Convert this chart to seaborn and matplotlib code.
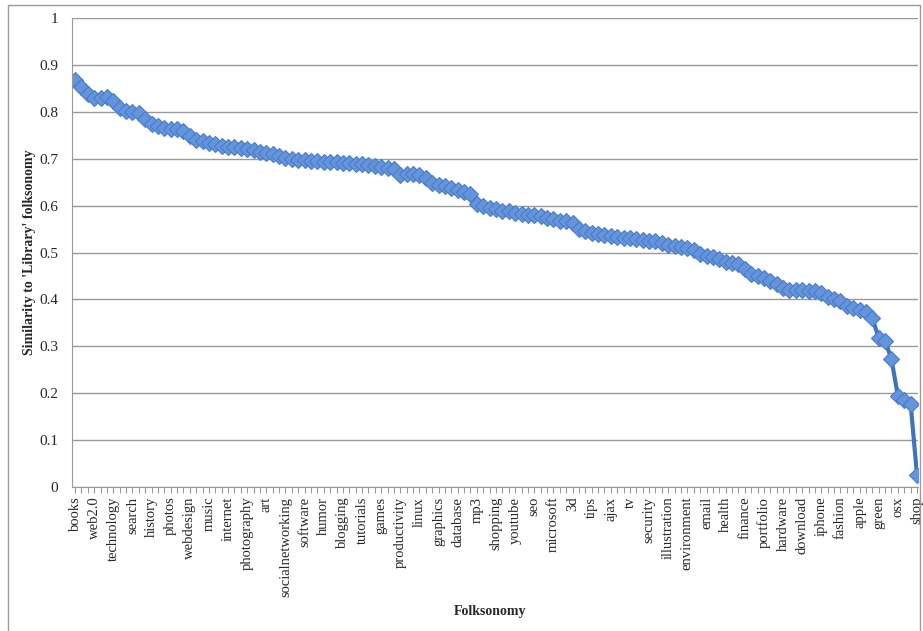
import matplotlib
matplotlib.use("Agg")
import matplotlib.pyplot as plt
import seaborn as sns
import numpy as np
import pandas as pd

# similarity of each folksonomy to the 'Library' folksonomy (133 categories, sorted)
similarity = [
    0.868, 0.853, 0.838, 0.830, 0.829, 0.832, 0.822, 0.808, 0.801, 0.800,
    0.797, 0.785, 0.775, 0.770, 0.766, 0.763, 0.764, 0.760, 0.748, 0.740,
    0.737, 0.733, 0.731, 0.728, 0.726, 0.724, 0.723, 0.721, 0.718, 0.715,
    0.712, 0.709, 0.706, 0.702, 0.700, 0.698, 0.697, 0.696, 0.695, 0.694,
    0.693, 0.692, 0.691, 0.690, 0.689, 0.688, 0.687, 0.685, 0.683, 0.681,
    0.678, 0.666, 0.667, 0.667, 0.665, 0.658, 0.648, 0.644, 0.641, 0.637,
    0.634, 0.630, 0.625, 0.603, 0.599, 0.594, 0.592, 0.589, 0.588, 0.585,
    0.582, 0.581, 0.579, 0.577, 0.574, 0.571, 0.568, 0.567, 0.563, 0.550,
    0.545, 0.542, 0.540, 0.537, 0.535, 0.533, 0.531, 0.530, 0.528, 0.526,
    0.525, 0.524, 0.521, 0.515, 0.514, 0.512, 0.510, 0.505, 0.497, 0.492,
    0.490, 0.487, 0.480, 0.477, 0.475, 0.465, 0.455, 0.450, 0.446, 0.440,
    0.433, 0.425, 0.420, 0.420, 0.419, 0.418, 0.417, 0.414, 0.406, 0.401,
    0.396, 0.386, 0.381, 0.378, 0.373, 0.360, 0.318, 0.312, 0.272, 0.195,
    0.185, 0.178, 0.025,
]

# only every third category is labelled on the axis
labelled_tags = [
    "books", "web2.0", "technology", "search", "history", "photos", "webdesign",
    "music", "internet", "photography", "art", "socialnetworking", "software",
    "humor", "blogging", "tutorials", "games", "productivity", "linux",
    "graphics", "database", "mp3", "shopping", "youtube", "seo", "microsoft",
    "3d", "tips", "ajax", "tv", "security", "illustration", "environment",
    "email", "health", "finance", "portfolio", "hardware", "download",
    "iphone", "fashion", "apple", "green", "osx", "shop",
]
label_step = 3

df = pd.DataFrame({"pos": np.arange(len(similarity)), "similarity": similarity})

sns.set_style("white")
plt.rcParams["font.family"] = ["Liberation Serif", "DejaVu Serif"]

fig = plt.figure(figsize=(9.23, 6.31), dpi=100)
ax = fig.add_axes([72 / 923, (631 - 487) / 631, (918 - 72) / 923, (487 - 18) / 631])

sns.lineplot(data=df, x="pos", y="similarity", ax=ax, color="#3F73BE", linewidth=3,
             marker="D", markersize=8.5, markerfacecolor="#6394DC",
             markeredgecolor="#4A7BC5", markeredgewidth=0.8)

ax.set_ylim(0, 1)
ax.set_yticks(np.arange(0, 1.01, 0.1))
ax.set_yticklabels(["0"] + [f"{v:.1f}" for v in np.arange(0.1, 0.95, 0.1)] + ["1"])
ax.yaxis.grid(True, color="#9a9a9a", linewidth=1)
ax.set_axisbelow(True)

n = len(similarity)
ax.set_xlim(-3 / 6.38, n - 1 + 1 / 6.38)
ticklabels = [""] * n
for k, name in enumerate(labelled_tags):
    ticklabels[k * label_step] = name
ax.set_xticks(range(n))
ax.set_xticklabels(ticklabels, rotation=90, fontsize=10.5)
ax.tick_params(axis="x", length=4, width=0.8, color="#9a9a9a", pad=3, bottom=True)
ax.tick_params(axis="y", length=0, labelsize=11, pad=10)

for s in ["top", "right"]:
    ax.spines[s].set_visible(False)
ax.spines["left"].set_color("#9a9a9a")
ax.spines["bottom"].set_color("#9a9a9a")

ax.set_xlabel("")
ax.set_ylabel("")
fig.text(30 / 923, 1 - 252 / 631, "Similarity to 'Library' folksonomy", rotation=90,
         ha="center", va="center", fontsize=10, fontweight="bold")
fig.text(490 / 923, 1 - 612 / 631, "Folksonomy", ha="center", va="center",
         fontsize=10, fontweight="bold")

# outer frame like the original chart area
frame = plt.Rectangle((8 / 923, -0.01), (920 - 8) / 923, 1 - 5 / 631 + 0.01,
                      transform=fig.transFigure, fill=False, edgecolor="#9a9a9a",
                      linewidth=1)
fig.patches.append(frame)

plt.savefig("out.png", dpi=100)
